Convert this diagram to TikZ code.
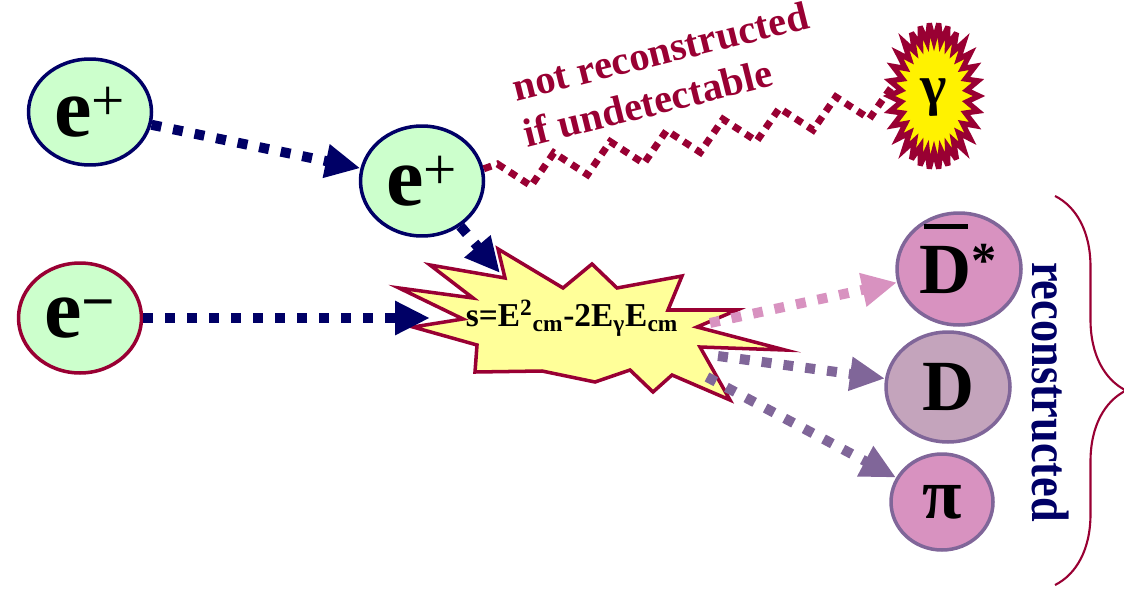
\documentclass[tikz,border=0pt]{standalone}
\usepackage{fontspec}
\setmainfont{Liberation Serif}
\usetikzlibrary{arrows.meta,shapes.geometric,decorations.pathmorphing,decorations.pathreplacing,positioning}
\definecolor{navy}{HTML}{000066}
\definecolor{wine}{HTML}{990033}
\definecolor{mint}{HTML}{CCFFCC}
\definecolor{paleyel}{HTML}{FFFF99}
\definecolor{pinkd}{HTML}{D892C0}
\definecolor{mauve}{HTML}{806699}
\definecolor{dfill}{HTML}{C4A4BC}
\newcommand{\bigfont}[1]{\bfseries\fontsize{#1}{#1}\selectfont}
\tikzset{
  particle/.style={ellipse,line width=2pt,inner sep=0pt},
  lepton/.style={particle,fill=mint,minimum width=2.46cm,minimum height=2.2cm,font=\bigfont{48}},
  meson/.style={particle,draw=mauve,fill=pinkd,font=\bigfont{41}},
  track/.style={line width=0.2cm,dash pattern=on 0.2cm off 0.24cm,-{Triangle[length=0.7cm,width=0.64cm]}},
  photon/.style={wine,line width=0.14cm,dash pattern=on 0.16cm off 0.13cm,decorate,
    decoration={zigzag,segment length=1.15cm,amplitude=0.28cm,raise=-0.24cm}}
}
\begin{document}
\begin{tikzpicture}[x=0.02cm,y=-0.02cm]
\useasboundingbox (0,0) rectangle (1124,588);
% beams
\node[lepton,draw=navy,minimum height=2.12cm] (ep1) at (90,112) {e\textsuperscript{\mdseries+}};
\node[lepton,draw=navy] (ep2) at (422,181) {e\textsuperscript{\mdseries+}};
\node[lepton,draw=wine] (em) at (80,318) {e\textsuperscript{−}};
% collision
\filldraw[wine,fill=paleyel,line width=2pt] (430,265)--(505,278)--(498,249)--(563,288)--(592,264)--(617,288)
  --(682,276)--(668,310)--(737,310)--(697,327)--(785,350)--(700,347)--(730,400)--(672,375)--(653,392)
  --(630,370)--(595,382)--(542,371)--(475,372)--(477,345)--(413,327)--(463,319)--(399,288)--(473,298)--cycle;
\node[font=\bigfont{19}] (burst) at (572,318) {s=E\textsuperscript{2}\textsubscript{cm}-2E\textsubscript{γ}E\textsubscript{cm}};
\coordinate (bin1) at (500,273);
\coordinate (bin2) at (430,318);
\coordinate (bout1) at (710,323);
\coordinate (bout2) at (718,356);
\coordinate (bout3) at (707,377);
% photon
\filldraw[wine,fill=yellow,line width=3pt,miter limit=4] plot[samples at={0,6,...,354},variable=\a]
  ({934+cos(\a)*(39+6*cos(30*\a))},{96+sin(\a)*(64+9*cos(30*\a))}) -- cycle;
\node[font=\bigfont{32}] (gam) at (934,98) {γ};
\coordinate (gl) at (891,88);
\node[wine,rotate=14,align=left,font=\bfseries\fontsize{23}{27}\selectfont] (notrec) at (666,74) {not reconstructed\\if undetectable};
% products
\node[meson,minimum width=2.48cm,minimum height=2.24cm] (dstar) at (959,269)
  {\ooalign{D\cr\hidewidth\rule[0.9em]{0.62em}{0.07em}\hidewidth\cr}\textsuperscript{*}};
\node[meson,fill=dfill,minimum width=2.48cm,minimum height=2.2cm] (dd) at (948,387) {D};
\node[meson,minimum width=2.04cm,minimum height=1.92cm] (pi) at (942,502) {π};
\draw[track,navy] (ep1) -- (ep2);
\draw[track,navy] (ep2) -- (bin1);
\draw[track,navy] (em) -- (bin2);
\draw[photon] (ep2) -- (gl);
\draw[track,pinkd] (bout1) -- (dstar);
\draw[track,mauve] (bout2) -- (dd);
\draw[track,mauve] (bout3) -- (pi);
\coordinate (btop) at (1055,196);
\coordinate (bbot) at (1055,585);
\draw[wine,line width=1.2pt,decorate,decoration={brace,amplitude=1.42cm}] (btop) -- (bbot);
\node[navy,rotate=-90,font=\bigfont{30}] (rec) at (1050,392) {\scalebox{0.84}[1]{reconstructed}};
\end{tikzpicture}
\end{document}
